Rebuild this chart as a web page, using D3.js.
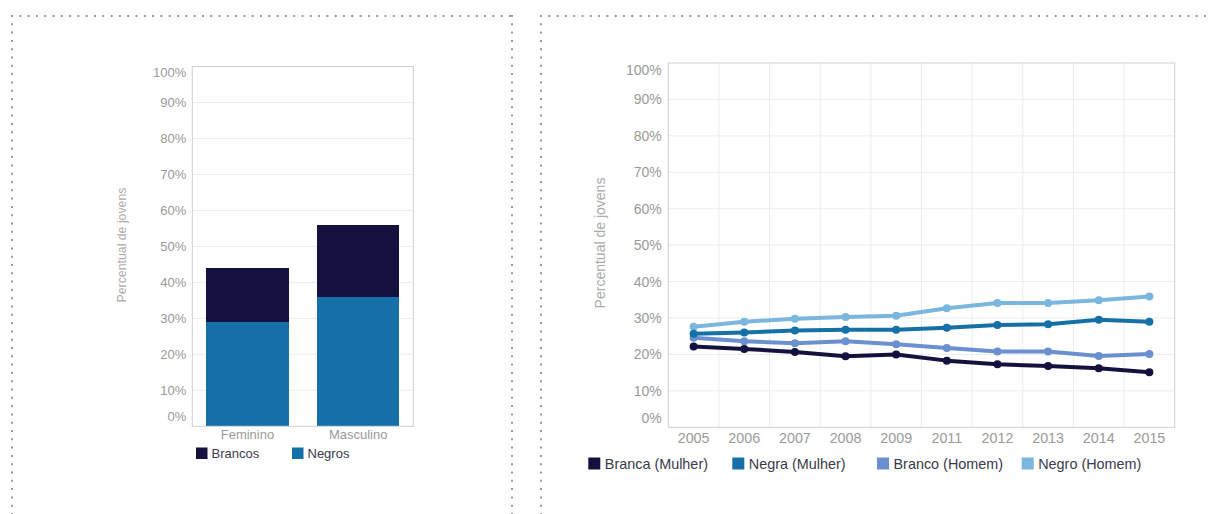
<!DOCTYPE html>
<html>
<head>
<meta charset="utf-8">
<script src="https://cdn.jsdelivr.net/npm/d3@7/dist/d3.min.js"></script>
<style>
  body { margin: 0; background: #fff; }
  svg { display: block; font-family: "Liberation Sans", Arial, sans-serif; }
</style>
</head>
<body>
<svg id="chart" width="1211" height="514"></svg>
<script>
// --- data ---
var genders = ["Feminino", "Masculino"];
var stackKeys = ["Negros", "Brancos"];
var negros = [29, 36];
var brancos = [15, 20];

var years = ["2005", "2006", "2007", "2008", "2009", "2011", "2012", "2013", "2014", "2015"];
var seriesNames = ["Branca (Mulher)", "Negra (Mulher)", "Branco (Homem)", "Negro (Homem)"];
var brancaMulher = [22.2, 21.5, 20.7, 19.5, 20.0, 18.3, 17.3, 16.8, 16.2, 15.1];
var negraMulher  = [25.7, 26.0, 26.6, 26.8, 26.8, 27.3, 28.1, 28.3, 29.5, 29.0];
var brancoHomem  = [24.6, 23.6, 23.1, 23.6, 22.8, 21.8, 20.8, 20.8, 19.6, 20.1];
var negroHomem   = [27.6, 29.0, 29.8, 30.3, 30.6, 32.7, 34.1, 34.1, 34.9, 35.9];
var yTicks = [0, 10, 20, 30, 40, 50, 60, 70, 80, 90, 100];

var svg = d3.select("#chart");

// dotted panel frames
var dots = svg.append("g")
  .attr("stroke", "#9a9a9a")
  .attr("stroke-width", 2)
  .attr("stroke-dasharray", "2,6.3");
dots.append("line").attr("x1", 11).attr("y1", 16).attr("x2", 513).attr("y2", 16);
dots.append("line").attr("x1", 12).attr("y1", 15).attr("x2", 12).attr("y2", 514);
dots.append("line").attr("x1", 512).attr("y1", 15).attr("x2", 512).attr("y2", 514);
dots.append("line").attr("x1", 540).attr("y1", 16).attr("x2", 1211).attr("y2", 16);
dots.append("line").attr("x1", 541).attr("y1", 15).attr("x2", 541).attr("y2", 514);

function pct(d) { return d + "%"; }

// ================= left: stacked bars =================
var L = {left: 192.3, right: 413.3, top: 66.5, bottom: 426.3};

var xBand = d3.scaleBand()
  .domain(genders)
  .range([L.left, L.right])
  .paddingInner(0.254)
  .paddingOuter(0.125);

var yL = d3.scaleLinear().domain([0, 100]).range([L.bottom, L.top]);

var gL = svg.append("g");

gL.append("g").selectAll("line")
  .data(yTicks.filter(t => t > 0 && t < 100))
  .enter().append("line")
  .attr("x1", L.left).attr("x2", L.right)
  .attr("y1", d => yL(d)).attr("y2", d => yL(d))
  .attr("stroke", "#ececec");

var stackRows = genders.map((g, i) => ({gender: g, Negros: negros[i], Brancos: brancos[i]}));
var stacked = d3.stack().keys(stackKeys)(stackRows);
var barColor = {Negros: "#1670a8", Brancos: "#15113f"};

gL.selectAll("g.layer")
  .data(stacked)
  .enter().append("g")
  .attr("class", "layer")
  .attr("fill", d => barColor[d.key])
  .attr("shape-rendering", "crispEdges")
  .selectAll("rect")
  .data(d => d)
  .enter().append("rect")
  .attr("x", d => xBand(d.data.gender))
  .attr("width", xBand.bandwidth())
  .attr("y", d => yL(d[1]))
  .attr("height", d => yL(d[0]) - yL(d[1]));

gL.append("rect")
  .attr("x", L.left).attr("y", L.top)
  .attr("width", L.right - L.left).attr("height", L.bottom - L.top)
  .attr("fill", "none").attr("stroke", "#cfcfcf");

var yAxisL = gL.append("g")
  .attr("transform", "translate(" + (L.left - 6) + ",0)")
  .call(d3.axisLeft(yL).tickValues(yTicks).tickFormat(pct).tickSize(0).tickPadding(0));
yAxisL.select(".domain").remove();
yAxisL.selectAll("text")
  .attr("fill", "#9a9a9a").attr("font-size", 13)
  .attr("dy", d => d == 0 ? "-0.45em" : d == 100 ? "0.8em" : "0.32em");

var xAxisL = gL.append("g")
  .attr("transform", "translate(0," + L.bottom + ")")
  .call(d3.axisBottom(xBand).tickSize(0).tickPadding(3.5));
xAxisL.select(".domain").remove();
xAxisL.selectAll("text").attr("fill", "#9a9a9a").attr("font-size", 13);

gL.append("text")
  .attr("transform", "translate(126,245) rotate(-90)")
  .attr("text-anchor", "middle")
  .attr("fill", "#aaaaaa").attr("font-size", 12.3)
  .text("Percentual de jovens");

var legL = gL.append("g").attr("transform", "translate(196,453)");
var legLItems = [{name: "Brancos", x: 0}, {name: "Negros", x: 96}];
legLItems.forEach(function(it) {
  legL.append("rect").attr("x", it.x).attr("y", -5.5).attr("width", 11.5).attr("height", 11.5)
    .attr("fill", barColor[it.name]);
  legL.append("text").attr("x", it.x + 15.5).attr("y", 0).attr("dy", "0.35em")
    .attr("font-size", 13).attr("fill", "#3a3a4a").text(it.name);
});

// ================= right: lines =================
var R = {left: 668.3, right: 1174.7, top: 63, bottom: 427.3};

var xYears = d3.scaleBand().domain(years).range([R.left, R.right]).padding(0);
var xc = d => xYears(d) + xYears.bandwidth() / 2;
var yR = d3.scaleLinear().domain([0, 100]).range([R.bottom, R.top]);

var gR = svg.append("g");

gR.append("g").selectAll("line")
  .data(yTicks.filter(t => t > 0 && t < 100))
  .enter().append("line")
  .attr("x1", R.left).attr("x2", R.right)
  .attr("y1", d => yR(d)).attr("y2", d => yR(d))
  .attr("stroke", "#ececec");

gR.append("g").selectAll("line")
  .data(years.slice(1))
  .enter().append("line")
  .attr("x1", d => xYears(d)).attr("x2", d => xYears(d))
  .attr("y1", R.top).attr("y2", R.bottom)
  .attr("stroke", "#ececec");

gR.append("rect")
  .attr("x", R.left).attr("y", R.top)
  .attr("width", R.right - R.left).attr("height", R.bottom - R.top)
  .attr("fill", "none").attr("stroke", "#cfcfcf");

var lineColors = ["#15113f", "#1670a8", "#6a90cf", "#7bb6de"];
var allSeries = [brancaMulher, negraMulher, brancoHomem, negroHomem];
var seriesData = seriesNames.map((n, i) => ({name: n, color: lineColors[i], values: allSeries[i]}));

var line = d3.line()
  .x((d, i) => xc(years[i]))
  .y(d => yR(d));

// draw lighter series first so darker sit on top
var drawOrder = [3, 2, 1, 0].map(i => seriesData[i]);
var sG = gR.selectAll("g.series")
  .data(drawOrder)
  .enter().append("g").attr("class", "series");

sG.append("path")
  .attr("d", d => line(d.values))
  .attr("fill", "none")
  .attr("stroke", d => d.color)
  .attr("stroke-width", 4)
  .attr("stroke-linejoin", "round");

sG.selectAll("circle")
  .data(d => d.values.map((v, i) => ({v: v, year: years[i], color: d.color})))
  .enter().append("circle")
  .attr("cx", d => xc(d.year))
  .attr("cy", d => yR(d.v))
  .attr("r", 4)
  .attr("fill", d => d.color);

var yAxisR = gR.append("g")
  .attr("transform", "translate(" + (R.left - 6.5) + ",0)")
  .call(d3.axisLeft(yR).tickValues(yTicks).tickFormat(pct).tickSize(0).tickPadding(0));
yAxisR.select(".domain").remove();
yAxisR.selectAll("text")
  .attr("fill", "#9a9a9a").attr("font-size", 14)
  .attr("dy", d => d == 0 ? "-0.32em" : d == 100 ? "0.82em" : "0.32em");

var xAxisR = gR.append("g")
  .attr("transform", "translate(0," + R.bottom + ")")
  .call(d3.axisBottom(xYears).tickSize(0).tickPadding(5.5));
xAxisR.select(".domain").remove();
xAxisR.selectAll("text").attr("fill", "#9a9a9a").attr("font-size", 14.3);

gR.append("text")
  .attr("transform", "translate(605,243) rotate(-90)")
  .attr("text-anchor", "middle")
  .attr("fill", "#aaaaaa").attr("font-size", 14)
  .text("Percentual de jovens");

var legR = gR.append("g").attr("transform", "translate(0,463.5)");
var legRx = [588.3, 732.3, 877, 1021.7];
seriesData.forEach(function(s, i) {
  legR.append("rect").attr("x", legRx[i]).attr("y", -6).attr("width", 12).attr("height", 12)
    .attr("fill", s.color);
  legR.append("text").attr("x", legRx[i] + 16.5).attr("y", 0).attr("dy", "0.35em")
    .attr("font-size", 14.4).attr("fill", "#3a3a4a").text(s.name);
});
</script>
</body>
</html>
